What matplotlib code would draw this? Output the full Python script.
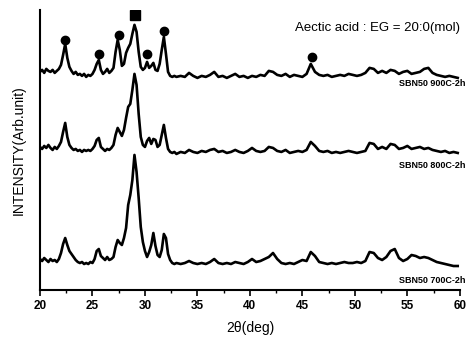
import numpy as np
import matplotlib
matplotlib.use("Agg")
import matplotlib.pyplot as plt

plt.rcParams['font.family'] = ['Liberation Sans', 'DejaVu Sans']

# 2-theta sampling: fine over the peak region, coarser beyond
theta_a = np.round(np.arange(20.0, 33.01, 0.2), 2)
theta_b = np.round(np.arange(33.4, 59.81, 0.4), 2)
theta = np.concatenate([theta_a, theta_b])

# intensities (arb. units, already offset per pattern)
i900_a = [218, 220, 217, 221, 219, 218, 220, 217, 219, 221,
          225, 235, 246, 232, 223, 219, 216, 218, 215, 216,
          214, 216, 213, 215, 214, 216, 220, 226, 230, 220,
          216, 218, 221, 217, 219, 222, 238, 250, 240, 224,
          226, 237, 242, 246, 256, 265, 258, 238, 223, 220,
          222, 228, 222, 224, 227, 220, 219, 226, 240, 253,
          236, 218, 214, 213, 214, 213]
i900_b = [214, 213, 217, 214, 212, 214, 213, 215, 218, 213,
          214, 212, 214, 216, 213, 214, 212, 214, 213, 215,
          214, 219, 218, 215, 214, 216, 213, 215, 214, 213,
          216, 226, 218, 215, 214, 215, 213, 214, 215, 214,
          216, 215, 214, 215, 217, 222, 221, 217, 219, 217,
          220, 219, 216, 218, 219, 216, 217, 218, 221, 222,
          217, 215, 214, 213, 214, 213, 212]

i800_a = [143, 141, 144, 142, 145, 142, 140, 143, 141, 144,
          148, 158, 167, 153, 145, 142, 140, 141, 139, 140,
          138, 140, 139, 140, 139, 141, 144, 150, 152, 143,
          141, 139, 141, 140, 142, 145, 155, 162, 158, 154,
          160, 172, 183, 186, 200, 216, 205, 176, 153, 145,
          143, 149, 152, 146, 151, 150, 143, 145, 155, 165,
          152, 141, 138, 137, 138, 136]
i800_b = [138, 137, 140, 138, 137, 139, 138, 140, 141, 138,
          139, 137, 138, 140, 138, 137, 139, 142, 139, 138,
          139, 143, 142, 139, 138, 140, 137, 138, 139, 138,
          140, 148, 144, 139, 138, 139, 137, 138, 137, 138,
          139, 138, 137, 138, 139, 147, 146, 141, 143, 141,
          146, 145, 141, 142, 144, 141, 142, 143, 141, 142,
          140, 139, 138, 139, 137, 138, 137]

i700_a = [31, 29, 32, 30, 28, 31, 29, 30, 28, 31,
          37, 46, 52, 45, 39, 36, 33, 30, 28, 27,
          28, 26, 27, 26, 28, 27, 31, 39, 41, 34,
          32, 30, 33, 30, 31, 33, 43, 50, 47, 45,
          52, 62, 85, 95, 110, 135, 118, 92, 63, 48,
          39, 33, 38, 45, 57, 44, 35, 33, 40, 56,
          52, 36, 30, 27, 26, 27]
i700_b = [26, 27, 29, 27, 26, 27, 26, 28, 31, 27,
          26, 27, 26, 28, 27, 26, 28, 31, 28, 29,
          31, 33, 37, 31, 27, 26, 27, 26, 28, 30,
          29, 38, 34, 28, 27, 26, 27, 26, 27, 28,
          27, 27, 28, 27, 29, 38, 37, 32, 30, 33,
          39, 41, 32, 29, 31, 35, 34, 32, 33, 32,
          30, 28, 27, 26, 25, 24, 24]

patterns = {
    "SBN50 900C-2h": i900_a + i900_b,
    "SBN50 800C-2h": i800_a + i800_b,
    "SBN50 700C-2h": i700_a + i700_b,
}
label_y = [206, 124, 10]

# phase markers on the 900C pattern
circle_x = [22.4, 25.6, 27.5, 30.2, 31.85, 45.9]
circle_y = [250, 236, 255, 236, 259, 233]
square_x = [29.05]
square_y = [275]

fig = plt.figure(figsize=(4.68, 3.40), dpi=100)
ax = fig.add_axes([0.0855, 0.147, 0.897, 0.824])

for (name, vals), ly in zip(patterns.items(), label_y):
    ax.plot(theta, vals, color="black", lw=1.9)
    ax.text(60.5, ly, name, ha="right", va="center", fontsize=6.5,
            fontweight="bold")

ax.plot(circle_x, circle_y, "o", color="black", ms=6)
ax.plot(square_x, square_y, "s", color="black", ms=6.5)

ax.text(60.0, 262, "Aectic acid : EG = 20:0(mol)", ha="right", va="center",
        fontsize=9.5)

ax.set_xlim(20, 60)
ax.set_ylim(0, 280)
ax.set_xticks(np.arange(20, 61, 5))
ax.set_xticks(np.arange(22.5, 60, 5), minor=True)
ax.set_yticks([])
ax.tick_params(axis="x", which="major", direction="out", length=4, width=1.2,
               labelsize=8.5)
ax.tick_params(axis="x", which="minor", direction="out", length=2.5, width=1)
for lab in ax.get_xticklabels():
    lab.set_fontweight("bold")
ax.spines["top"].set_visible(False)
ax.spines["right"].set_visible(False)
ax.spines["left"].set_linewidth(1.5)
ax.spines["bottom"].set_linewidth(1.5)

ax.set_xlabel("2\u03b8(deg)", fontsize=10, labelpad=6)
ax.set_ylabel("INTENSITY(Arb.unit)", fontsize=10, labelpad=10)

fig.savefig("out.png", dpi=100)
